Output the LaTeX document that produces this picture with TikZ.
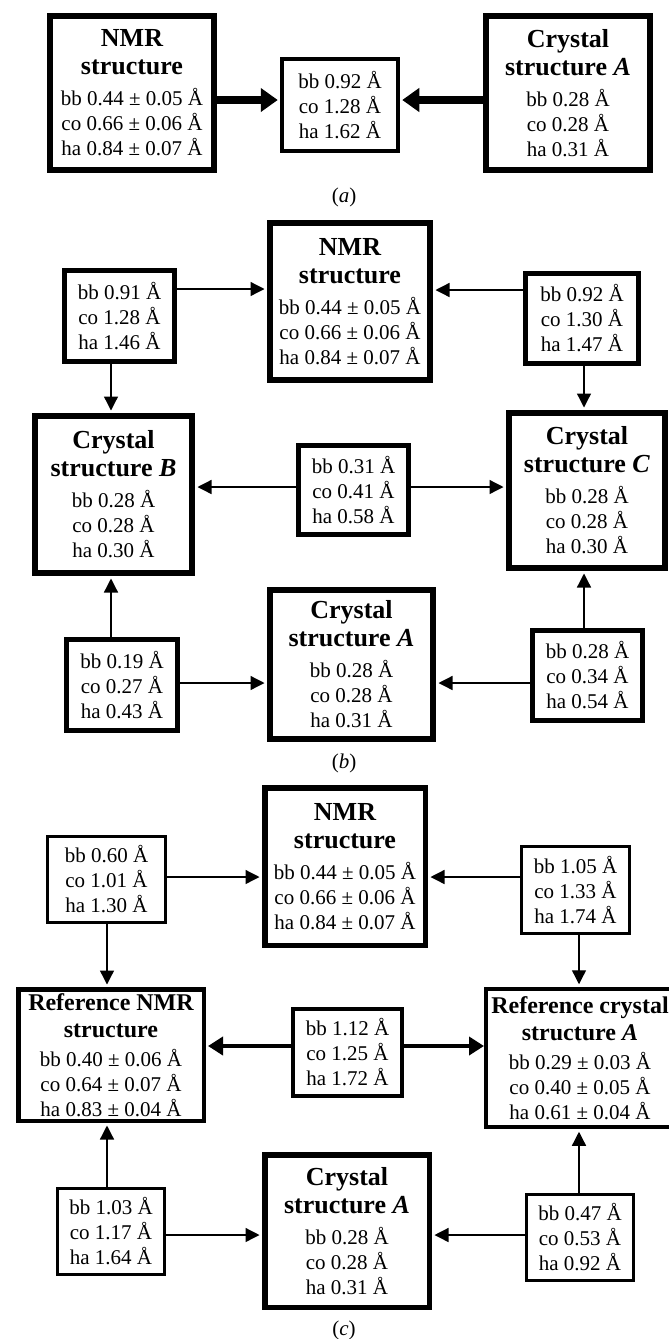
\documentclass[tikz,border=0pt]{standalone}
\usepackage{fontspec}
\setmainfont{Liberation Serif}
\usetikzlibrary{arrows.meta}
\newcommand\ttlf{\fontsize{26}{28}\selectfont\bfseries}
\newcommand\ttls{\fontsize{24}{27}\selectfont\bfseries}
\newcommand\valf{\fontsize{21}{25}\selectfont\mdseries}
\tikzset{
  bx/.style n args={3}{draw, line width=#3pt, minimum width=#1pt, minimum height=#2pt,
    inner sep=0pt, align=center, font=\valf},
  arrA/.style={line width=8pt, -{Triangle[length=17pt,width=23pt]}, shorten >=2pt},
  arrT/.style={line width=1.3pt, -{Triangle[length=14pt,width=14pt]}, shorten >=2.5pt},
  arrC/.style={line width=4pt, -{Triangle[length=15pt,width=18pt]}, shorten >=2pt},
  captxt/.style={font=\valf, inner sep=0pt}
}
\begin{document}
\begin{tikzpicture}[x=1pt,y=-1pt]
\useasboundingbox (0,0) rectangle (669,1339);
% ---------------- panel (a)
\node[bx={164}{154}{6}] (aNMR) at (132,93)
  {\ttlf NMR\\[3pt]\ttlf structure\\[6pt]\valf bb 0.44 ± 0.05 Å\\co 0.66 ± 0.06 Å\\ha 0.84 ± 0.07 Å};
\node[bx={116}{92}{4.5}] (aMid) at (340,105)
  {\valf bb 0.92 Å\\co 1.28 Å\\ha 1.62 Å};
\node[bx={164}{154}{6}] (aCA) at (568,93)
  {\ttlf Crystal\\[3pt]\ttlf structure \textit{A}\\[6pt]\valf bb 0.28 Å\\co 0.28 Å\\ha 0.31 Å};
\draw[arrA] (aNMR.east |- 0,100) -- (aMid.west |- 0,100);
\draw[arrA] (aCA.west |- 0,100) -- (aMid.east |- 0,100);
\node[captxt] (capa) at (344,197) {(\textit{a})};
% ---------------- panel (b)
\node[bx={160}{157}{6}] (bNMR) at (350,301.5)
  {\ttlf NMR\\[3pt]\ttlf structure\\[6pt]\valf bb 0.44 ± 0.05 Å\\co 0.66 ± 0.06 Å\\ha 0.84 ± 0.07 Å};
\node[bx={110}{91}{5}] (bTL) at (119.5,316) {\valf bb 0.91 Å\\co 1.28 Å\\ha 1.46 Å};
\node[bx={113}{90}{5}] (bTR) at (582,318.5) {\valf bb 0.92 Å\\co 1.30 Å\\ha 1.47 Å};
\node[bx={157}{157}{6}] (bB) at (113.5,494.5)
  {\ttlf Crystal\\[3pt]\ttlf structure \textit{B}\\[6pt]\valf bb 0.28 Å\\co 0.28 Å\\ha 0.30 Å};
\node[bx={110}{89}{5}] (bMid) at (353.5,490) {\valf bb 0.31 Å\\co 0.41 Å\\ha 0.58 Å};
\node[bx={156}{155}{6}] (bC) at (587,490.5)
  {\ttlf Crystal\\[3pt]\ttlf structure \textit{C}\\[6pt]\valf bb 0.28 Å\\co 0.28 Å\\ha 0.30 Å};
\node[bx={163}{149}{6}] (bA) at (351.5,664.5)
  {\ttlf Crystal\\[3pt]\ttlf structure \textit{A}\\[6pt]\valf bb 0.28 Å\\co 0.28 Å\\ha 0.31 Å};
\node[bx={111}{91}{5}] (bBL) at (122,685) {\valf bb 0.19 Å\\co 0.27 Å\\ha 0.43 Å};
\node[bx={110}{90}{5}] (bBR) at (587.5,675.5) {\valf bb 0.28 Å\\co 0.34 Å\\ha 0.54 Å};
\draw[arrT] (bTL.east |- 0,289) -- (bNMR.west |- 0,289);
\draw[arrT] (bTR.west |- 0,290) -- (bNMR.east |- 0,290);
\draw[arrT] (bTL.south -| 111,0) -- (bB.north -| 111,0);
\draw[arrT] (bTR.south -| 584,0) -- (bC.north -| 584,0);
\draw[arrT] (bMid.west |- 0,487) -- (bB.east |- 0,487);
\draw[arrT] (bMid.east |- 0,487) -- (bC.west |- 0,487);
\draw[arrT] (bBL.north -| 111,0) -- (bB.south -| 111,0);
\draw[arrT] (bBR.north -| 584,0) -- (bC.south -| 584,0);
\draw[arrT] (bBL.east |- 0,683) -- (bA.west |- 0,683);
\draw[arrT] (bBR.west |- 0,683) -- (bA.east |- 0,683);
\node[captxt] (capb) at (344,763) {(\textit{b})};
% ---------------- panel (c)
\node[bx={160.5}{157.5}{5.5}] (cNMR) at (345,866.5)
  {\ttlf NMR\\[3pt]\ttlf structure\\[6pt]\valf bb 0.44 ± 0.05 Å\\co 0.66 ± 0.06 Å\\ha 0.84 ± 0.07 Å};
\node[bx={118.3}{86.3}{2.7}] (cTL) at (106.5,879.5) {\valf bb 0.60 Å\\co 1.01 Å\\ha 1.30 Å};
\node[bx={108.3}{87.3}{2.7}] (cTR) at (575.5,890) {\valf bb 1.05 Å\\co 1.33 Å\\ha 1.74 Å};
\node[bx={185.5}{131.5}{4.5}] (cRN) at (111,1055)
  {\ttls Reference NMR\\[2pt]\ttls structure\\[4pt]\valf bb 0.40 ± 0.06 Å\\co 0.64 ± 0.07 Å\\ha 0.83 ± 0.04 Å};
\node[bx={109}{87}{4}] (cMid) at (347.5,1052.5) {\valf bb 1.12 Å\\co 1.25 Å\\ha 1.72 Å};
\node[bx={183.5}{133.5}{4.5}, draw=none] (cRC) at (580,1058)
  {\ttls Reference crystal\\[2pt]\ttls structure \textit{A}\\[4pt]\valf bb 0.29 ± 0.03 Å\\co 0.40 ± 0.05 Å\\ha 0.61 ± 0.04 Å};
\draw[line width=4.5pt, line join=miter]
  ([xshift=20pt]cRC.north east) -- (cRC.north west) -- (cRC.south west) -- ([xshift=20pt]cRC.south east);
\node[bx={164.5}{152.5}{5.5}] (cA) at (347,1231)
  {\ttlf Crystal\\[3pt]\ttlf structure \textit{A}\\[6pt]\valf bb 0.28 Å\\co 0.28 Å\\ha 0.31 Å};
\node[bx={107.3}{86.3}{2.7}] (cBL) at (111,1231.5) {\valf bb 1.03 Å\\co 1.17 Å\\ha 1.64 Å};
\node[bx={107.3}{86.3}{2.7}] (cBR) at (580,1237.5) {\valf bb 0.47 Å\\co 0.53 Å\\ha 0.92 Å};
\draw[arrT] (cTL.east |- 0,877) -- (cNMR.west |- 0,877);
\draw[arrT] (cTR.west |- 0,877) -- (cNMR.east |- 0,877);
\draw[arrT] (cTL.south -| 107,0) -- (cRN.north -| 107,0);
\draw[arrT] (cTR.south -| 579,0) -- ([yshift=2.25pt]cRC.north -| 579,0);
\draw[arrC] (cMid.west |- 0,1046) -- (cRN.east |- 0,1046);
\draw[arrC] (cMid.east |- 0,1046) -- (cRC.west |- 0,1046);
\draw[arrT] (cBL.north -| 107,0) -- (cRN.south -| 107,0);
\draw[arrT] (cBR.north -| 579,0) -- ([yshift=-2.25pt]cRC.south -| 579,0);
\draw[arrT] (cBL.east |- 0,1235) -- (cA.west |- 0,1235);
\draw[arrT] (cBR.west |- 0,1235) -- (cA.east |- 0,1235);
\node[captxt] (capc) at (344,1330) {(\textit{c})};
\end{tikzpicture}
\end{document}
